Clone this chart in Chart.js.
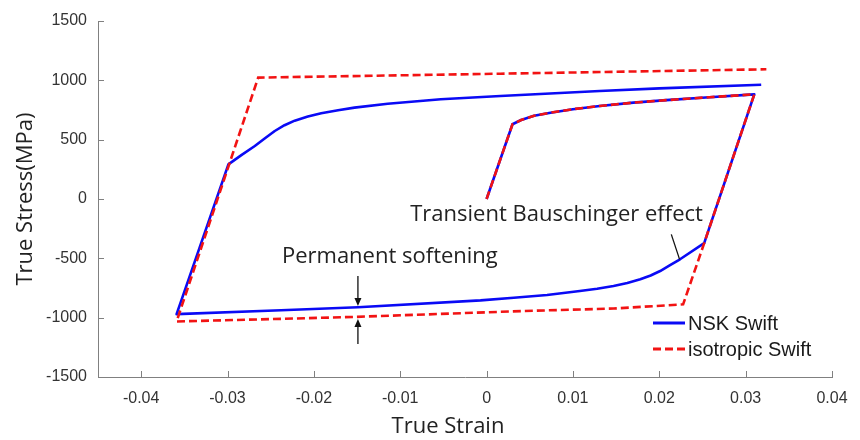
<!DOCTYPE html>
<html>
<head>
<meta charset="utf-8">
<script src="https://cdn.jsdelivr.net/npm/chart.js@4/dist/chart.umd.min.js"></script>
<style>
  html, body { margin: 0; padding: 0; background: #fff; }
</style>
</head>
<body>
<canvas id="grafica" width="860" height="440"></canvas>
<script>
// datos (deformación verdadera, esfuerzo verdadero en MPa)
const nskStrain = [0, 0.003, 0.004, 0.0055, 0.0074, 0.010, 0.0131, 0.017, 0.0208, 0.0258, 0.031,
  0.0252, 0.0224, 0.0212, 0.0201, 0.019, 0.0178, 0.0163, 0.0147, 0.0128, 0.0108, 0.007, 0.00315, -0.0007,
  -0.0149, -0.0238, -0.0359,
  -0.0299, -0.0284, -0.02684, -0.0257, -0.02453, -0.0234, -0.02222, -0.0207, -0.01915, -0.0172, -0.0153,
  -0.01145, -0.0053, 0.0016, 0.0131, 0.02, 0.0318]
const nskStress = [0, 630, 666, 702, 727, 757, 784, 812, 833, 858, 882,
  -372, -508, -560, -607, -645, -677, -708, -733, -757, -776, -809, -832, -854,
  -912, -938, -970,
  292, 370, 447, 510, 573, 622, 660, 695, 722, 748, 770,
  803, 840, 868, 910, 932, 963]

const isoStrain = [0, 0.003, 0.004, 0.0055, 0.0074, 0.010, 0.0131, 0.017, 0.0208, 0.0258, 0.031,
  0.0252, 0.02276, 0.0147, 0.0043, -0.015, -0.0238, -0.0359,
  -0.02645, -0.0145, 0.0016, 0.0324]
const isoStress = [0, 630, 666, 702, 727, 757, 784, 812, 833, 858, 882,
  -372, -888, -923, -944, -993, -1010, -1032,
  1023, 1037, 1056, 1093]

const xTicks = [-0.04, -0.03, -0.02, -0.01, 0, 0.01, 0.02, 0.03, 0.04]
const yTicks = [-1500, -1000, -500, 0, 500, 1000, 1500]

const seriesNames = ['NSK Swift', 'isotropic Swift']
const azul = '#0a0af5'
const rojo = '#f21313'

const toPoints = (xs, ys) => xs.map((v, i) => ({ x: v, y: ys[i] }))

// anotaciones en coordenadas de datos
const notaBauschinger = { text: 'Transient Bauschinger effect', x: 0.0081, y: -135 }
const notaSoftening = { text: 'Permanent softening', x: -0.0112, y: -489 }
const lineaBauschinger = [[0.02139, -298], [0.02235, -509]]
const flechaX = -0.0149
const flechaAbajo = [-649, -902]
const flechaArriba = [-1222, -1012]

function arrow(ctx, px, y0, y1) {
  const dir = y1 > y0 ? 1 : -1
  ctx.beginPath()
  ctx.moveTo(px, y0)
  ctx.lineTo(px, y1 - dir * 6)
  ctx.stroke()
  ctx.beginPath()
  ctx.moveTo(px, y1)
  ctx.lineTo(px - 3.5, y1 - dir * 8)
  ctx.lineTo(px + 3.5, y1 - dir * 8)
  ctx.closePath()
  ctx.fill()
}

const extras = {
  id: 'extras',
  afterDraw(chart) {
    const { ctx, chartArea: a, scales: { x, y } } = chart
    ctx.save()
    // marcas de los ejes hacia adentro
    ctx.strokeStyle = '#808080'
    ctx.lineWidth = 1
    ctx.beginPath()
    xTicks.forEach(v => {
      const px = Math.round(x.getPixelForValue(v)) + 0.5
      ctx.moveTo(px, a.bottom)
      ctx.lineTo(px, a.bottom - 6)
    })
    yTicks.forEach(v => {
      const py = Math.round(y.getPixelForValue(v)) + 0.5
      ctx.moveTo(a.left, py)
      ctx.lineTo(a.left + 6, py)
    })
    ctx.stroke()

    // títulos de los ejes
    ctx.fillStyle = '#222'
    ctx.font = '22px "Open Sans"'
    ctx.textAlign = 'center'
    ctx.textBaseline = 'middle'
    ctx.fillText('True Strain', 448, 427)
    ctx.save()
    ctx.translate(26, (a.top + a.bottom) / 2)
    ctx.rotate(-Math.PI / 2)
    ctx.fillText('True Stress(MPa)', 0, 0)
    ctx.restore()

    // textos de anotación
    ctx.fillText(notaBauschinger.text, x.getPixelForValue(notaBauschinger.x), y.getPixelForValue(notaBauschinger.y))
    ctx.fillText(notaSoftening.text, x.getPixelForValue(notaSoftening.x), y.getPixelForValue(notaSoftening.y))

    ctx.strokeStyle = '#111'
    ctx.fillStyle = '#111'
    ctx.lineWidth = 1.3
    ctx.beginPath()
    ctx.moveTo(x.getPixelForValue(lineaBauschinger[0][0]), y.getPixelForValue(lineaBauschinger[0][1]))
    ctx.lineTo(x.getPixelForValue(lineaBauschinger[1][0]), y.getPixelForValue(lineaBauschinger[1][1]))
    ctx.stroke()
    const fx = x.getPixelForValue(flechaX)
    arrow(ctx, fx, y.getPixelForValue(flechaAbajo[0]), y.getPixelForValue(flechaAbajo[1]))
    arrow(ctx, fx, y.getPixelForValue(flechaArriba[0]), y.getPixelForValue(flechaArriba[1]))

    // leyenda dentro del área
    const ds = chart.data.datasets
    const lx0 = a.right - 179, lx1 = a.right - 147
    const rows = [a.bottom - 54, a.bottom - 28]
    ctx.font = '20px "Liberation Sans", Arial'
    ctx.textAlign = 'left'
    ds.forEach((d, i) => {
      ctx.strokeStyle = d.borderColor
      ctx.lineWidth = 3
      ctx.setLineDash(d.borderDash || [])
      ctx.beginPath()
      ctx.moveTo(lx0, rows[i])
      ctx.lineTo(lx1, rows[i])
      ctx.stroke()
      ctx.setLineDash([])
      ctx.fillStyle = '#1a1a1a'
      ctx.fillText(d.label, lx1 + 3, rows[i] + 1)
    })
    ctx.restore()
  }
}

new Chart(document.getElementById('grafica'), {
  type: 'scatter',
  data: {
    datasets: [
      {
        label: seriesNames[0],
        data: toPoints(nskStrain, nskStress),
        showLine: true,
        borderColor: azul,
        borderWidth: 2.6,
        pointRadius: 0,
        tension: 0,
        borderJoinStyle: 'round',
        order: 2
      },
      {
        label: seriesNames[1],
        data: toPoints(isoStrain, isoStress),
        showLine: true,
        borderColor: rojo,
        borderWidth: 2.6,
        borderDash: [8, 4],
        pointRadius: 0,
        tension: 0,
        order: 1
      }
    ]
  },
  options: {
    responsive: false,
    animation: false,
    layout: { padding: { top: 21, right: 28, left: 0, bottom: 0 } },
    plugins: {
      legend: { display: false },
      tooltip: { enabled: false }
    },
    scales: {
      x: {
        type: 'linear',
        min: -0.045,
        max: 0.04,
        afterBuildTicks: s => { s.ticks = xTicks.map(v => ({ value: v })) },
        afterFit: s => { s.height = 63 },
        grid: { display: false },
        border: { display: true, color: '#808080', width: 1 },
        ticks: {
          padding: 4,
          color: '#333',
          font: { family: '"Liberation Sans", Arial', size: 16 },
          callback: v => v === 0 ? '0' : v.toFixed(2)
        }
      },
      y: {
        min: -1500,
        max: 1500,
        afterBuildTicks: s => { s.ticks = yTicks.map(v => ({ value: v })) },
        afterFit: s => { s.width = 98 },
        grid: { display: false },
        border: { display: true, color: '#808080', width: 1 },
        ticks: {
          padding: 3,
          color: '#333',
          font: { family: '"Liberation Sans", Arial', size: 16 },
          callback: v => String(v)
        }
      }
    }
  },
  plugins: [extras]
})
</script>
</body>
</html>
